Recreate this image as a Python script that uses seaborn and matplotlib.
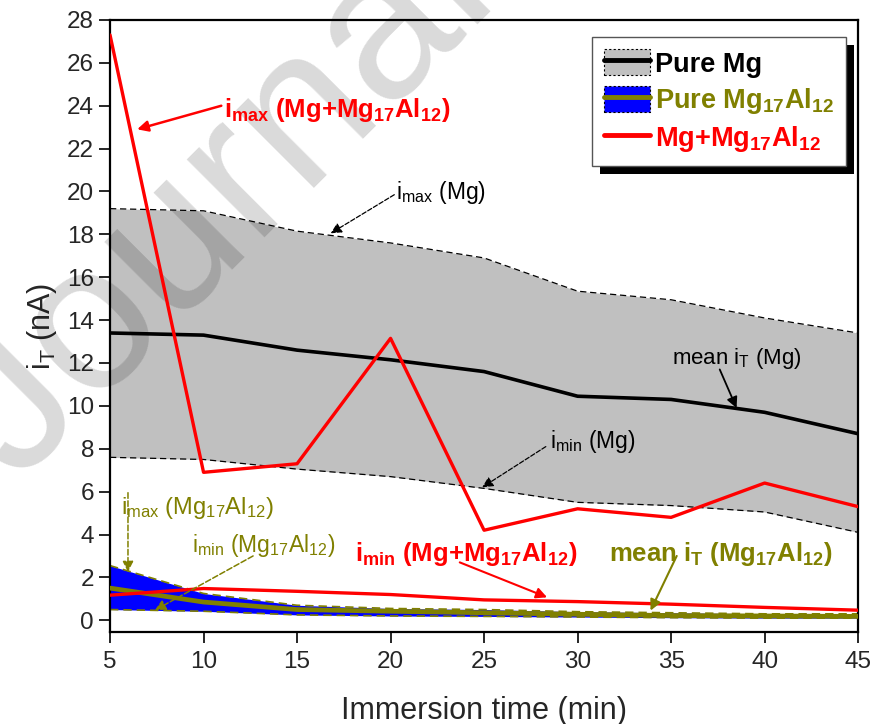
import numpy as np
import pandas as pd
import matplotlib
matplotlib.use("Agg")
import matplotlib.pyplot as plt
import seaborn as sns
from matplotlib.patches import Patch, Rectangle
from matplotlib.lines import Line2D
from matplotlib.legend_handler import HandlerTuple

# values (nA vs min)
time_min = [5, 10, 15, 20, 25, 30, 35, 40, 45]
mg_max = [19.2, 19.1, 18.15, 17.6, 16.9, 15.35, 14.95, 14.1, 13.4]
mg_mean = [13.4, 13.3, 12.6, 12.15, 11.6, 10.45, 10.3, 9.7, 8.7]
mg_min = [7.6, 7.5, 7.05, 6.7, 6.15, 5.5, 5.35, 5.05, 4.1]
al_max = [2.55, 1.25, 0.7, 0.55, 0.5, 0.4, 0.35, 0.3, 0.3]
al_mean = [1.5, 0.85, 0.5, 0.42, 0.35, 0.28, 0.22, 0.2, 0.18]
al_min = [0.5, 0.42, 0.25, 0.2, 0.18, 0.15, 0.12, 0.1, 0.1]
mix_max = [27.3, 6.9, 7.3, 13.15, 4.2, 5.2, 4.8, 6.4, 5.3]
mix_min = [1.17, 1.48, 1.35, 1.2, 0.95, 0.87, 0.75, 0.6, 0.47]

OLIVE = "#808000"
GREY = "#c0c0c0"

sns.set_style("ticks")
plt.rcParams["font.family"] = ["Liberation Sans", "DejaVu Sans"]
plt.rcParams["mathtext.default"] = "regular"

df = pd.DataFrame({
    "t": time_min, "mg_max": mg_max, "mg_mean": mg_mean, "mg_min": mg_min,
    "al_max": al_max, "al_mean": al_mean, "al_min": al_min,
    "mix_max": mix_max, "mix_min": mix_min,
})

fig = plt.figure(figsize=(8.76, 7.24), dpi=100)
ax = fig.add_axes([0.1256, 0.127, 0.854, 0.8454])

# Pure Mg band
ax.fill_between(df["t"], df["mg_min"], df["mg_max"], color=GREY, lw=0, zorder=1)
for col in ["mg_max", "mg_min"]:
    sns.lineplot(data=df, x="t", y=col, ax=ax, color="black", lw=0.9,
                 linestyle=(0, (5, 3)), zorder=1.2)
sns.lineplot(data=df, x="t", y="mg_mean", ax=ax, color="black", lw=2.6, zorder=3)

# Pure Mg17Al12 band
ax.fill_between(df["t"], df["al_min"], df["al_max"], color="blue", lw=0, zorder=1)
for col in ["al_max", "al_min"]:
    sns.lineplot(data=df, x="t", y=col, ax=ax, color=OLIVE, lw=1.2,
                 linestyle=(0, (5, 3)), zorder=1.3)
sns.lineplot(data=df, x="t", y="al_mean", ax=ax, color=OLIVE, lw=3.4, zorder=3)

# Mg+Mg17Al12
sns.lineplot(data=df, x="t", y="mix_max", ax=ax, color="red", lw=2.4, zorder=4)
sns.lineplot(data=df, x="t", y="mix_min", ax=ax, color="red", lw=2.4, zorder=4)

ax.set_xlim(5, 45)
ax.set_ylim(-0.55, 28)
ax.set_xticks(range(5, 50, 5))
ax.set_yticks(range(0, 30, 2))
ax.tick_params(axis="both", direction="out", length=8, width=1.4, labelsize=17.5,
               top=False, right=False)
ax.tick_params(axis="x", pad=6)
for s in ax.spines.values():
    s.set_linewidth(1.6)
    s.set_color("black")
ax.set_xlabel("Immersion time (min)", fontsize=22, labelpad=16)
ax.set_ylabel("i$_T$ (nA)", fontsize=22, labelpad=6)


# annotations: text, then an arrow from `start` to `tip`
def note(text, pos, start, tip, color, size, weight="normal", dashed=False, lw=1.2):
    ax.text(pos[0], pos[1], text, color=color, fontsize=size, fontweight=weight,
            ha="left", va="center", zorder=6)
    ax.annotate("", xy=tip, xytext=start, zorder=6,
                arrowprops=dict(arrowstyle="-|>", color=color, lw=lw,
                                linestyle="--" if dashed else "-",
                                shrinkA=0, shrinkB=0, mutation_scale=16))


note("i$_{max}$ (Mg+Mg$_{17}$Al$_{12}$)", (11.1, 23.8), (10.95, 24.0), (6.45, 22.9),
     "red", 18.5, "bold", lw=1.8)
note("i$_{max}$ (Mg)", (20.3, 19.95), (20.2, 19.85), (16.8, 18.05), "black", 16.5,
     dashed=True, lw=0.9)
note("mean i$_T$ (Mg)", (35.05, 12.2), (37.6, 11.7), (38.5, 9.9), "black", 16, lw=1.3)
note("i$_{min}$ (Mg)", (28.5, 8.35), (28.3, 8.1), (24.9, 6.2), "black", 16.5,
     dashed=True, lw=0.9)
note("i$_{max}$ (Mg$_{17}$Al$_{12}$)", (5.6, 5.25), (5.96, 5.95), (5.96, 2.25),
     OLIVE, 17, dashed=True, lw=1.1)
note("i$_{min}$ (Mg$_{17}$Al$_{12}$)", (9.4, 3.5), (12.65, 3.0), (7.4, 0.47),
     OLIVE, 16.5, dashed=True, lw=1.1)
note("i$_{min}$ (Mg+Mg$_{17}$Al$_{12}$)", (18.1, 3.1), (23.7, 2.7), (28.37, 1.07),
     "red", 18.5, "bold", lw=1.5)
note("mean i$_T$ (Mg$_{17}$Al$_{12}$)", (31.7, 3.1), (35.3, 3.0), (33.9, 0.45),
     OLIVE, 18.5, "bold", lw=1.5)

# legend
h_mg = (Patch(facecolor=GREY, edgecolor="black", linestyle=(0, (2, 2)), lw=0.8),
        Line2D([], [], color="black", lw=3.5))
h_al = (Patch(facecolor="blue", edgecolor="black", linestyle=(0, (2, 2)), lw=0.8),
        Line2D([], [], color=OLIVE, lw=3.5))
h_mix = Line2D([], [], color="red", lw=3.5)
leg = ax.legend([h_mg, h_al, h_mix],
                ["Pure Mg", "Pure Mg$_{17}$Al$_{12}$", "Mg+Mg$_{17}$Al$_{12}$"],
                handler_map={tuple: HandlerTuple(ndivide=1, pad=0)},
                loc="upper left", bbox_to_anchor=(0.644, 0.972),
                prop={"weight": "bold", "size": 19.5}, frameon=True,
                fancybox=False, framealpha=1, edgecolor="#555555",
                handlelength=1.7, handleheight=1.1, handletextpad=0.2,
                labelspacing=0.3, borderpad=0.45, borderaxespad=0)
leg.get_frame().set_linewidth(1.0)
leg.set_zorder(10)
for txt, c in zip(leg.get_texts(), ["black", OLIVE, "red"]):
    txt.set_color(c)

# journal watermark
ax.text(0.02, 0.33, "Journal Pre-proof", transform=fig.transFigure,
        fontsize=150, color="black", alpha=0.15, rotation=45,
        rotation_mode="anchor", ha="left", va="baseline", zorder=1.5,
        clip_on=False)

# black drop shadow behind the legend frame
fig.canvas.draw()
bb = leg.get_window_extent().transformed(fig.transFigure.inverted())
ax.add_patch(Rectangle((bb.x0 + 8 / 876, bb.y0 - 8 / 724), bb.width, bb.height,
                       transform=fig.transFigure, facecolor="black", lw=0,
                       zorder=9, clip_on=False))

fig.savefig("out.png", dpi=100)
